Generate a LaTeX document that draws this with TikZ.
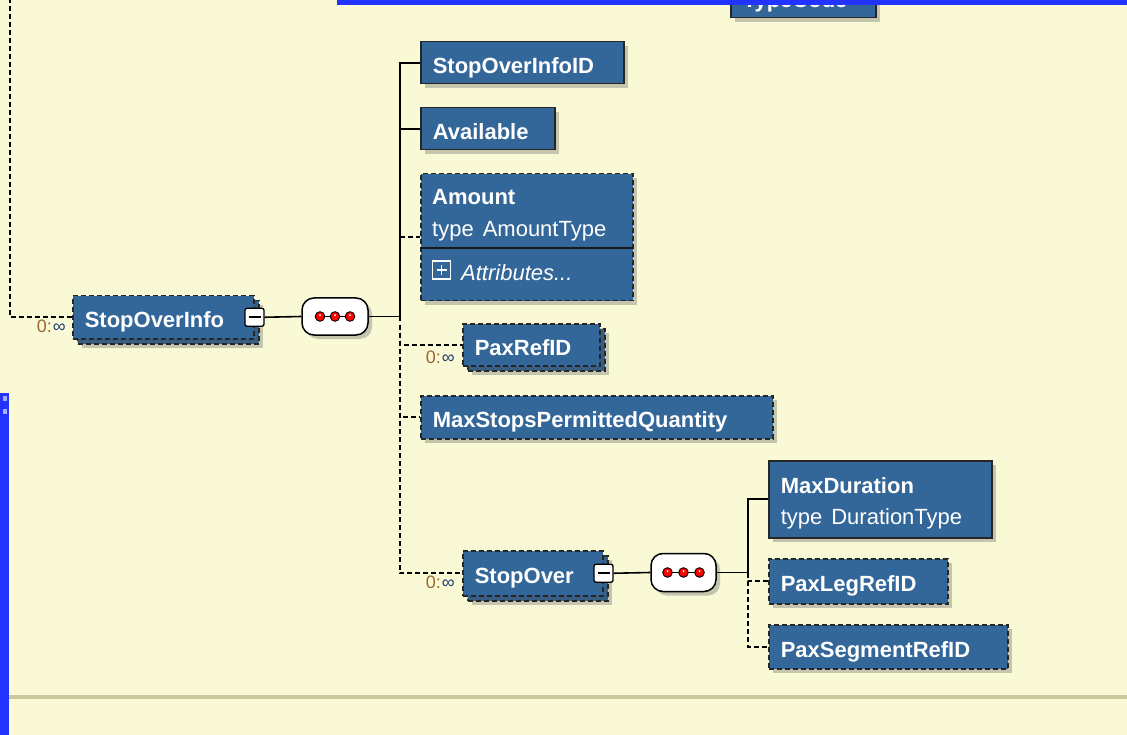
\documentclass[tikz,border=0pt]{standalone}
\usepackage{fontspec}
\setmainfont{Liberation Sans}
\usetikzlibrary{shadows}
\definecolor{bgyellow}{HTML}{FAF9D6}
\definecolor{boxblue}{HTML}{336699}
\definecolor{barblue}{HTML}{2233FF}
\definecolor{occcol}{HTML}{996633}
\definecolor{infcol}{HTML}{1F3F6F}
\definecolor{rulecol}{HTML}{C9C99C}
\begin{document}
\begin{tikzpicture}[x=1pt,y=-1pt,
  elem/.style={draw=black!85, line width=1.5pt, fill=boxblue, text=white,
    anchor=north west, inner xsep=12pt, inner ysep=0pt, align=left,
    text depth=0pt,
    font=\bfseries\fontsize{22}{26}\selectfont,
    drop shadow={shadow xshift=4pt, shadow yshift=-4pt, opacity=0.3, fill=black!70}},
  oneline/.style={text height=21pt},
  box/.style n args={3}{minimum width=#1, text width=#2, minimum height=#3},
  opt/.style={dash pattern=on 5pt off 3pt},
  wire/.style={line width=1.6pt, draw=black},
  seqbox/.style={draw=black, line width=1.5pt, fill=white, rounded corners=12pt,
    minimum width=66pt, minimum height=37pt, inner sep=0pt,
    drop shadow={shadow xshift=4pt, shadow yshift=-4pt, opacity=0.3, fill=black!70}},
  minusbtn/.style={draw=black, line width=1.3pt, fill=white, rounded corners=2pt,
    minimum width=19pt, minimum height=18pt, inner sep=0pt},
  occlabel/.style={anchor=base east, inner sep=0pt, font=\fontsize{18}{20}\selectfont},
  txt/.style={anchor=base west, inner sep=0pt, text=white}
]
\useasboundingbox (0,0) rectangle (1127,735);
\clip (0,0) rectangle (1127,735);
\fill[bgyellow] (0,0) rectangle (1127,735);

% partially visible node at the top
\node[elem, oneline, box={145pt}{121pt}{42pt}] (typecode) at (730,-25) {TypeCode};
\fill[barblue] (337,0) rectangle (1127,5);

% left bar and bottom rule
\fill[barblue] (0,393) rectangle (9,735);
\fill[white!60!barblue] (3,396) rectangle (7,401);
\fill[white!60!barblue] (3,409) rectangle (7,414);
\fill[rulecol] (9,695) rectangle (1127,699);

% StopOverInfo (stacked)
\node[elem, opt, oneline, box={181pt}{157pt}{43pt}] (soiback) at (77,300) {};
\node[elem, opt, oneline, box={181pt}{157pt}{43pt}] (soi) at (72,295) {StopOverInfo};
\node[minusbtn] (soim) at (soi.east) {};
\draw[line width=1.6pt] ([xshift=-6pt]soim.center) -- ([xshift=6pt]soim.center);
\node[occlabel] (occ1) at (66,333) {\textcolor{occcol}{0:}\hspace{1pt}\textcolor{infcol}{∞}};

% sequence 1
\node[seqbox] (seq1) at (335,316.5) {};
\draw[line width=1.2pt] ([xshift=-15pt]seq1.center) -- ([xshift=15pt]seq1.center);
\foreach \dx in {-15,0,15} {
  \draw[line width=0.9pt, fill=red] ([xshift=\dx pt]seq1.center) circle (4.8pt);
  \fill[white] ([xshift=\dx pt, yshift=1.3pt]seq1.center) circle (1pt);
}
\coordinate (j1) at (400,316.5);

% children of sequence 1
\node[elem, oneline, box={203pt}{179pt}{42pt}] (soid) at (420,41) {StopOverInfoID};
\node[elem, oneline, box={134pt}{110pt}{42pt}] (avail) at (420,107) {Available};
\node[elem, opt, box={212pt}{188pt}{127pt}] (amount) at (420,173) {};
\coordinate (divy) at (0,248);
\draw[line width=2pt, black!90] (amount.west |- divy) -- (amount.east |- divy);
\node[txt, font=\bfseries\fontsize{22}{26}\selectfont] (amtname) at (432,205) {Amount};
\node[txt, font=\fontsize{22}{26}\selectfont] (amttype) at (432,237) {type\hspace{9pt}AmountType};
\node[draw=white, line width=1.2pt, minimum size=18pt, inner sep=0pt] (plusbox) at (441.5,270) {};
\draw[white, line width=1.2pt] ([xshift=-5pt]plusbox.center) -- ([xshift=5pt]plusbox.center);
\draw[white, line width=1.2pt] ([yshift=-5pt]plusbox.center) -- ([yshift=5pt]plusbox.center);
\node[txt, font=\itshape\fontsize{22}{26}\selectfont] (amtattr) at (461,281) {Attributes...};

\node[elem, opt, oneline, box={137pt}{113pt}{42pt}] (paxrefback) at (467,328) {};
\node[elem, opt, oneline, box={137pt}{113pt}{42pt}] (paxref) at (462,323) {PaxRefID};
\node[occlabel] (occ2) at (455,363) {\textcolor{occcol}{0:}\hspace{1pt}\textcolor{infcol}{∞}};

\node[elem, opt, oneline, box={352pt}{328pt}{43pt}] (maxstops) at (420,395) {MaxStopsPermittedQuantity};

\node[elem, opt, oneline, box={140pt}{116pt}{45pt}] (stopoverback) at (467,555) {};
\node[elem, opt, oneline, box={140pt}{116pt}{45pt}] (stopover) at (462,550) {StopOver};
\node[minusbtn] (som) at (stopover.east) {};
\draw[line width=1.6pt] ([xshift=-6pt]som.center) -- ([xshift=6pt]som.center);
\node[occlabel] (occ3) at (455,588) {\textcolor{occcol}{0:}\hspace{1pt}\textcolor{infcol}{∞}};

% sequence 2
\node[seqbox, minimum width=65pt, minimum height=38pt] (seq2) at (683.5,572.5) {};
\draw[line width=1.2pt] ([xshift=-16pt]seq2.center) -- ([xshift=16pt]seq2.center);
\foreach \dx in {-16,0,16} {
  \draw[line width=0.9pt, fill=red] ([xshift=\dx pt]seq2.center) circle (4.8pt);
  \fill[white] ([xshift=\dx pt, yshift=1.3pt]seq2.center) circle (1pt);
}
\coordinate (j2) at (748,572.5);

% children of sequence 2
\node[elem, box={223pt}{199pt}{77pt}, text height=20pt, text depth=31pt,
      font=\bfseries\fontsize{22}{31}\selectfont] (maxdur) at (768,460)
  {MaxDuration\\\mdseries type\hspace{9pt}DurationType};
\node[elem, opt, oneline, box={179pt}{155pt}{45pt}] (paxleg) at (768,558) {PaxLegRefID};
\node[elem, opt, oneline, box={239pt}{215pt}{44pt}] (paxseg) at (768,624) {PaxSegmentRefID};

% connectors
\coordinate (ltop) at (10,-2);
\draw[wire, opt] (ltop) |- (soi.west);
\draw[wire] (soim.east) -- (seq1.west);
\draw[wire] (seq1.east) -- (j1);
\draw[wire] (j1) |- (soid.west);
\draw[wire] (j1) |- (avail.west);
\draw[wire, opt] (amount.west -| j1) -- (amount.west);
\draw[wire, opt] (j1) |- (paxref.west);
\draw[wire, opt] (j1) |- (maxstops.west);
\draw[wire, opt] (j1) |- (stopover.west);
\draw[wire] (som.east) -- (seq2.west);
\draw[wire] (seq2.east) -- (j2);
\draw[wire] (j2) |- (maxdur.west);
\draw[wire, opt] (j2) |- (paxleg.west);
\draw[wire, opt] (j2) |- (paxseg.west);
\end{tikzpicture}
\end{document}
